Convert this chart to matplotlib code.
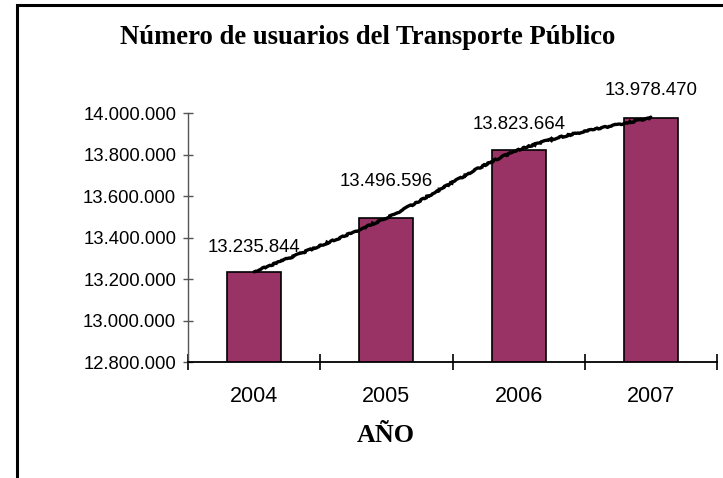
import numpy as np
import matplotlib
matplotlib.use('Agg')
import matplotlib.pyplot as plt
from matplotlib.path import Path
from matplotlib.patches import PathPatch, Rectangle
from matplotlib.ticker import FuncFormatter

years = ['2004', '2005', '2006', '2007']
usuarios = [13235844, 13496596, 13823664, 13978470]
y_ticks = [12800000, 13000000, 13200000, 13400000, 13600000, 13800000, 14000000]

# distance (points) of each value label above its bar
label_offsets = [17.7, 26, 18.5, 19.3]


def miles(v, pos=None):
    return f'{int(round(v)):,}'.replace(',', '.')


plt.rcParams['font.family'] = ['Liberation Sans', 'DejaVu Sans']

fig = plt.figure(figsize=(7.23, 4.78), dpi=100)
ax = fig.add_axes([188 / 723, 1 - 362.3 / 478, 529 / 723, 249 / 478])

x = np.arange(len(years))
ax.bar(x, usuarios, width=0.41, color='#993366', edgecolor='black',
       linewidth=1.2, zorder=2)

# smoothed line through the bar tops (bezier, like the spreadsheet "smooth line")
pts = np.column_stack([x, usuarios]).astype(float)
verts = [pts[0]]
codes = [Path.MOVETO]
n = len(pts)
for i in range(n - 1):
    p0 = pts[max(i - 1, 0)]
    p1 = pts[i]
    p2 = pts[i + 1]
    p3 = pts[min(i + 2, n - 1)]
    verts += [p1 + (p2 - p0) / 6, p2 - (p3 - p1) / 6, p2]
    codes += [Path.CURVE4] * 3
curve = PathPatch(Path(verts, codes), fill=False, lw=2.4, edgecolor='black',
                  zorder=3, capstyle='round')
curve.set_sketch_params(scale=0.7, length=18, randomness=16)
ax.add_patch(curve)

for xi, v, off in zip(x, usuarios, label_offsets):
    ax.annotate(miles(v), (xi, v), xytext=(0, off), textcoords='offset points',
                ha='center', va='center', fontsize=13.4, annotation_clip=False)

ax.set_ylim(y_ticks[0], y_ticks[-1])
ax.set_yticks(y_ticks)
ax.yaxis.set_major_formatter(FuncFormatter(miles))
ax.set_xlim(-0.5, len(years) - 0.5)
ax.set_xticks(np.arange(len(years) + 1) - 0.5)
ax.set_xticklabels([''] * (len(years) + 1))
ax.set_xticks(x, minor=True)
ax.set_xticklabels(years, minor=True)

for s in ['top', 'right']:
    ax.spines[s].set_visible(False)
ax.spines['left'].set_color('#555555')
ax.spines['left'].set_linewidth(1.0)
ax.spines['bottom'].set_color('black')
ax.spines['bottom'].set_linewidth(1.3)

ax.tick_params(axis='y', direction='inout', length=7, width=1,
               color='#555555', labelsize=13.3, pad=5)
ax.tick_params(axis='x', which='major', direction='inout', length=11.5,
               width=1.2, color='black')
ax.tick_params(axis='x', which='minor', length=0, pad=17, labelsize=15.5)

fig.text(368 / 723, 1 - 38 / 478, 'Número de usuarios del Transporte Público',
         ha='center', va='center', fontfamily='Liberation Serif',
         fontweight='bold', fontsize=19.2)
fig.text(386 / 723, 1 - 436 / 478, 'AÑO', ha='center', va='center',
         fontfamily='Liberation Serif', fontweight='bold', fontsize=18.8)

# outer frame, its right and bottom sides fall outside the picture
fig.add_artist(Rectangle((17 / 723, -0.1), 1.0, 1.1 - 5 / 478,
                         transform=fig.transFigure, fill=False,
                         lw=2.2, edgecolor='black', clip_on=False))

fig.savefig('out.png', dpi=100)
